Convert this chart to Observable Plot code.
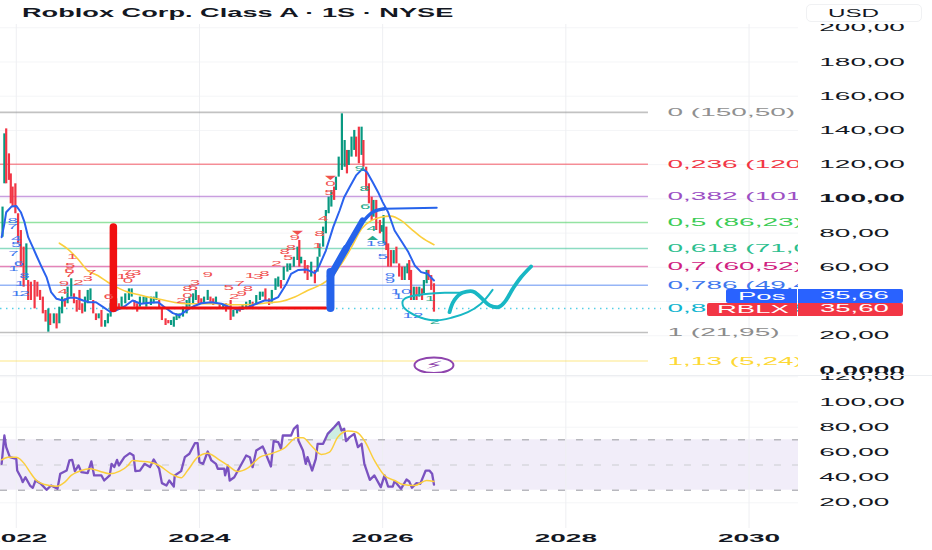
<!DOCTYPE html>
<html><head><meta charset="utf-8">
<script src="https://cdn.jsdelivr.net/npm/d3@7"></script>
<script src="https://cdn.jsdelivr.net/npm/@observablehq/plot@0.6"></script>
<style>
html,body{margin:0;padding:0;background:#fff;width:932px;height:550px;overflow:hidden;font-family:"Liberation Sans",sans-serif;color:#131722}
#chart{position:absolute;left:0;top:0;width:932px;height:550px;overflow:hidden}
#chart svg{position:absolute;left:0;background:transparent;display:block}
#chart svg *{vector-effect:non-scaling-stroke}
.wide{position:absolute;white-space:nowrap;transform-origin:0 50%;transform:scaleX(2.5);line-height:14px;height:14px}
.box{position:absolute}
</style></head><body>
<div id="chart"></div>
<script>
// Candles: date, range (high, low) and direction
const candleYear=[21.85,21.87,21.89,21.92,21.94,21.96,21.99,22.02,22.05,22.08,22.11,22.13,22.16,22.20,22.23,22.26,22.29,22.32,22.35,22.37,22.41,22.44,22.47,22.50,22.53,22.56,22.60,22.63,22.66,22.69,22.72,22.75,22.78,22.81,22.84,22.87,22.90,22.93,22.97,23.00,23.03,23.06,23.09,23.12,23.15,23.19,23.23,23.26,23.29,23.32,23.35,23.39,23.42,23.47,23.50,23.53,23.56,23.59,23.63,23.66,23.69,23.72,23.75,23.78,23.82,23.86,23.89,23.93,23.96,23.99,24.02,24.05,24.09,24.12,24.15,24.18,24.22,24.26,24.29,24.34,24.37,24.41,24.44,24.47,24.51,24.55,24.58,24.62,24.66,24.69,24.72,24.76,24.79,24.83,24.86,24.89,24.92,24.96,24.99,25.03,25.07,25.09,
25.11,25.15,25.18,25.22,25.26,25.29,25.31,25.35,25.38,25.41,25.44,25.47,25.49,25.52,25.555,25.585,25.61,25.63,25.66,25.69,25.71,25.74,25.77,25.79,25.82,25.85,25.88,25.90,25.93,25.97,25.99,26.01,26.04,26.06,26.09,26.12,26.15,26.18,26.21,26.24,26.27,26.29,26.31,26.34,26.37,26.40,26.43,26.45,26.48,26.50,26.53,26.56];
const candleHigh=[95.2,138,140.9,126.3,114.6,106.9,108.8,91.3,81.5,71.8,73.7,52.3,51.3,52.3,51.3,46.5,42.6,34.8,35.7,32.8,32.8,32.8,36.7,42.6,41.6,48.4,53.3,44.5,40.6,46.5,38.7,42.6,46.5,47.4,40.6,32.8,32.8,34.8,28.9,32.8,38.7,44.5,41.6,38.7,42.6,44.5,47.4,47.4,40.6,38.7,42.6,42.6,42.6,42.6,42.6,45.5,40.6,35.7,29.9,28.9,28.9,30.9,32.8,32.8,36.7,40.6,42.6,44.5,46.5,43.5,41.6,42.6,46.5,42.6,41.6,42.6,38.7,37.7,38.7,40.6,34.8,35.7,36.7,37.7,39.6,40.6,39.6,43.5,45.5,45.5,47.4,41.6,46.5,53.3,54.3,52.3,60.1,62,62,65.9,71.8,75.7,
65.9,64,61,63,58.2,65.9,73.7,83.5,93.2,101,104.9,106.9,112.7,124.4,149.7,134.1,128.3,128.3,136.1,140,136.1,141.9,141.9,134.1,118.5,108.8,101,99.1,99.1,87.4,84.4,90.3,83.5,73.7,69.8,69.8,71.8,62,60.1,60.1,62,64,58.2,48.4,48.4,48.4,47.4,52.3,58.2,58.2,55.2,50.4];
const candleLow=[77.6,108.8,108.8,110.8,97.1,95.2,91.3,73.7,60.1,48.4,52.3,40.6,40.6,35.7,42.6,40.6,32.8,28,22.1,26,27,24,27,32.8,36.7,38.7,42.6,38.7,33.8,34.8,32.8,33.8,38.7,40.6,32.8,28.9,29.9,25,25,27,30.9,34.8,34.8,34.8,36.7,38.7,40.6,42.6,36.7,33.8,36.7,38.7,36.7,37.7,38.7,40.6,35.7,28.9,26,27,26,25,28.9,29.9,30.9,32.8,36.7,38.7,40.6,38.7,38.7,38.7,40.6,39.6,37.7,38.7,35.7,35.7,33.8,28.9,30.9,32.8,33.8,34.8,35.7,36.7,35.7,37.7,40.6,42.6,40.6,37.7,38.7,46.5,48.4,47.4,52.3,57.2,58.1,60.1,64,60.1,
62,56.2,52.3,54.3,50.4,57.2,65.9,71.8,79.6,91.3,95.2,99.1,104.9,112.7,116.6,118.5,114.6,119.5,124.4,128.3,124.4,120.5,125.4,118.5,104.9,97.1,87.4,89.3,81.5,79.6,80.5,73.7,69.8,60.1,60.1,62,62,54.3,52.3,52.3,56.2,52.3,40.6,40.6,40.6,42.6,40.6,44.5,50.4,52.3,46.5,33.8];
const candleUp=[1,1,0,0,0,0,0,0,0,0,1,0,0,0,0,0,0,0,1,0,1,0,1,1,0,1,1,0,0,0,0,1,1,1,0,0,1,0,1,1,1,0,1,0,1,1,1,1,0,0,1,1,1,1,1,1,0,0,0,0,1,1,1,1,1,1,1,1,1,0,0,1,1,0,0,1,0,1,0,0,1,1,0,1,1,1,0,1,1,1,0,0,1,1,1,0,1,1,1,1,1,0,
1,0,0,1,0,1,1,1,1,1,1,0,1,1,1,1,0,1,1,1,0,0,1,0,0,0,0,1,0,0,1,1,0,0,0,1,0,0,0,1,1,0,0,1,0,1,0,1,1,0,0,0];

const maBlueYear=[21.84,21.87,21.89,21.95,22,22.05,22.09,22.13,22.18,22.22,22.27,22.33,22.38,22.44,22.51,22.58,22.65,22.73,22.8,22.87,22.95,23.02,23.09,23.18,23.27,23.36,23.46,23.55,23.62,23.71,23.78,23.86,23.93,24.02,24.13,24.24,24.33,24.42,24.51,24.6,24.71,24.78,24.86,24.95,25,25.08,25.17,25.26,25.31,25.38,25.46,25.53,25.58,25.64,25.71,25.78,25.83,25.89,25.95,26,26.06,26.13,26.2,26.28,26.35,26.42,26.49,26.56];
const maBlueValue=[77.6,85.4,92.2,95.6,95.9,92.2,86.4,77.6,71.8,66.9,61,54.3,45.5,41.6,40.6,42.2,42.2,40.6,39.6,39.6,36.7,34.2,34.8,37.1,40.6,38.7,39.3,39.6,36.7,33.2,31.9,34.8,37.1,39,39.6,38.7,36.7,35.2,36.3,38.3,40.6,40.6,42.6,50.4,56.2,58.5,58.7,56.6,61.1,69.8,83.5,93.2,101,106.9,113.7,117.6,115.6,109.8,103.9,98.1,92.2,81.5,75.7,68.9,61.1,57.2,56.2,52.3];
const maYellowYear=[22.47,22.56,22.67,22.78,22.89,23,23.11,23.22,23.33,23.44,23.58,23.73,23.87,24.02,24.2,24.38,24.57,24.75,24.89,25.04,25.18,25.33,25.44,25.55,25.66,25.77,25.88,25.98,26.09,26.2,26.31,26.42,26.56];
const maYellowValue=[74.1,70.8,65,58.1,55.2,51.3,48,45.5,44.1,42.6,41.2,39.4,38.7,38.7,38.7,38.1,38.3,39.3,40,42.6,46.5,50,54.3,62,71.8,82.5,87.4,89.3,89.9,87.4,82.5,77.6,73.2];

const fibLevel=["0 (150,50)","0,236 (120,16)","0,382 (101,40)","0,5 (86,23)","0,618 (71,05)","0,7 (60,52)","0,786 (49,46)","0,887 (35,90)","1 (21,95)","1,13 (5,24)"];
const fibValue=[150.5,120.16,101.4,86.23,71.05,60.52,49.46,35.9,21.95,5.24];
const fibColor=["#909090","#f23645","#9c4fc4","#3ccc55","#2ebf8f","#d0207f","#3f78ee","#12b5d0","#8c8c8c","#fdd835"];

const drawnBlueA=[[25.43,36.3],[25.43,57.2]];
const drawnBlueB=[[25.43,55],[25.6,71]];
const drawnBlueB2=[[25.58,69],[25.78,87.4]];
const drawnBlueC=[[25.76,85],[25.89,92.2],[26.02,94.2]];
const drawnBlueD=[[26.02,94.2],[26.59,94.8]];
const drawnRedBar=[[23.06,83.5],[23.06,36]];
const drawnRedFloor=[[23.06,36.3],[25.38,36.3]];
const tealLoop=[[27.2,46.8],[27.07,38.6],[26.93,33.8],[26.75,30.5],[26.57,28.9],[26.42,30.5],[26.29,33.8],[26.22,37.7],[26.24,41.6],[26.35,43.5],[26.57,44.9],[26.71,45.1],[26.87,45.1]];
const tealBrush=[[26.73,33.8],[26.78,40.6],[26.87,45.1],[26.98,46],[27.07,42.5],[27.17,37.7],[27.26,36.7],[27.33,39.6],[27.42,47.4],[27.51,54.2],[27.62,60.5]];

const tdRed=[[22.61,66.3,"1"],[22.59,61.1,"5"],[22.58,58.2,"6"],[22.58,55.8,"7"],[22.82,57.2,"7"],[22.68,51.3,"2"],[22.52,50.4,"9"],[22.78,53.3,"3"],[22.51,46.1,"4"],[23.21,57.2,"7"],[23.31,57.2,"3"],[23.25,55.2,"8"],[23.15,54.6,"1"],[23.22,52.3,"0"],[23.01,42.6,"6"],[23.95,51.3,"3"],[24.09,55.8,"9"],[23.93,48.4,"5"],[23.87,47.4,"8"],[23.87,43.5,"0"],[23.8,40.6,"2"],[24.32,48.4,"5"],[24.55,55.2,"1"],[24.64,54.3,"3"],[24.71,56.2,"8"],[24.44,50.4,"7"],[24.53,47.4,"8"],[24.46,44.5,"9"],[24.38,42.6,"2"],[24.84,62.4,"2"],[24.93,68.9,"8"],[25,71.8,"8"],[25.04,77.2,"9"],[24.97,65.9,"5"],[25.43,109.2,"0"],[25.42,103.9,"5"],[25.35,88.3,"4"],[25.31,79.6,"8"],[25.29,72.8,"1"],[25.07,80.5,"▼"],[25.43,112.7,"▼"]];
const tdTeal=[[25.75,117.6,"9"],[25.8,105.9,"8"],[25.81,95.2,"6"],[25.88,82.5,"4"],[26.57,28,"2"],[26.52,41.6,"1"],[25.89,77.6,"▲"]];
const tdBlue=[[25.93,74.1,"19"],[26,66.3,"5"],[26.08,55.2,"9"],[26.08,52.3,"9"],[26.2,46.1,"10"],[26.17,42.6,"1"],[26.33,31.9,"12"],[21.96,87.4,"8"],[21.96,83.9,"7"],[22,76.7,"4"],[22,73.3,"5"],[21.97,68.3,"7"],[22.03,62.4,"6"],[21.97,59.1,"1"],[22.09,55.2,"8"],[22.04,50.4,"1"],[22,44.5,"1"],[22.09,44.5,"2"]];

const rsiYear=[21.84,21.87,21.89,21.93,22,22.01,22.05,22.07,22.1,22.15,22.18,22.21,22.27,22.33,22.38,22.45,22.48,22.55,22.58,22.61,22.64,22.68,22.71,22.78,22.82,22.85,22.93,22.96,23.02,23.04,23.07,23.1,23.12,23.18,23.24,23.28,23.3,23.35,23.4,23.46,23.5,23.56,23.59,23.64,23.67,23.72,23.73,23.8,23.84,23.89,23.95,23.98,24,24.04,24.09,24.13,24.18,24.2,24.27,24.28,24.31,24.33,24.38,24.45,24.51,24.55,24.58,24.62,24.69,24.71,24.78,24.81,24.86,24.89,24.91,25,25.03,25.07,25.08,25.13,25.16,25.18,25.23,25.27,25.29,25.35,25.4,25.47,25.52,25.55,25.58,25.6,25.64,25.69,25.73,25.77,25.8,25.86,25.91,25.98,26.02,26.06,26.11,26.13,26.2,26.26,26.29,26.32,26.37,26.41,26.47,26.51,26.54,26.56];
const rsiValue=[50.9,73.4,64.2,56.2,54.9,45.6,40.3,36.4,40.3,33.7,31.9,37.7,35,30.3,33.7,31.1,43,45.6,53.6,54.1,45.1,49.6,44.3,43.5,52.8,41.7,41.7,37.7,41.7,50.9,48.3,54.1,49.6,56.2,59.4,57.5,45.1,45.6,50.9,48.3,54.4,47,35.6,33.7,37.7,32.9,41.7,45.1,56.2,58.9,67.3,67.3,52.2,50.9,60.7,53.6,50.9,47,47,41.7,49.6,37.7,40.3,49.6,57.5,56.2,48.3,61.5,64.7,61.5,48.8,68.9,68.1,62.8,73.4,73.4,78.7,81.4,69.4,61.5,50.9,56.2,45.6,54.9,66.8,66.8,74.7,80,84,77.4,78.7,68.9,72.1,74.7,64.2,66.8,50.9,38.2,41.7,32.4,41.7,32.9,32.9,37.2,31.1,38.5,36.9,31.9,35.6,35,45.6,45.6,43,34.5];
const rsiMaYear=[21.84,21.91,22,22.09,22.15,22.22,22.31,22.44,22.53,22.6,22.71,22.8,22.91,23.02,23.13,23.22,23.27,23.36,23.46,23.56,23.69,23.8,23.87,23.98,24.09,24.2,24.31,24.42,24.53,24.66,24.78,24.93,25.06,25.13,25.22,25.33,25.42,25.51,25.62,25.71,25.8,25.91,26.02,26.13,26.22,26.35,26.48,26.56];
const rsiMaValue=[54.1,56.2,56.2,50.9,44.3,37.7,34.5,33.2,36.4,41.7,45.6,47,45.1,43,45.1,49.6,53.6,53,52.2,49.6,43,39.8,45.6,56.2,59.4,54.9,49.6,44.8,47.7,56.2,58.9,63.6,71.6,71.6,65.5,58.3,60.2,72.1,76.9,76.1,69.4,53.6,41.7,37.7,34.5,33.7,37.7,36.9];
const rsiHumpYear=[25.4,25.47,25.52,25.58];
const rsiHumpValue=[74.7,80,84,78.7];
const rsiBands=[70,50,30];

const yearTicks=[2022,2024,2026,2028,2030];
const priceTicks=[20,60,80,120,140,160,180,200];
const priceBold=[0,100];
const priceGrid=[20,40,60,80,100,120,140,160,180,200];
const rsiTicks=[20,40,60,80,100,120];

const STRETCH=2.5;
const logicalW=932/STRETCH, marginR=134/STRETCH;
const xDomain=[21.836,30.548];
const yr=v=>v+2000;
const candles=candleYear.map((x,i)=>({x:yr(x),h:candleHigh[i],l:candleLow[i],up:candleUp[i]}));
const pts=a=>a.map(([x,y,t])=>({x:yr(x),y,t}));
const line=(a,o)=>Plot.line(pts(a),{x:"x",y:"y",...o});
const fibs=fibValue.map((v,i)=>({v,label:fibLevel[i],color:fibColor[i]}));
const fmt=d=>d===0?"0,0000":d.toFixed(2).replace(".",",");
const td=(a,fill)=>Plot.text(pts(a),{x:"x",y:"y",text:"t",fill,fontSize:7.5,fontFamily:"Liberation Sans"});
const axisFont={fontSize:11.2,fontFamily:"Liberation Sans",fill:"#131722"};

const pricePlot=Plot.plot({
  width:logicalW,height:349,marginLeft:0,marginRight:marginR,marginTop:0,marginBottom:0,
  x:{domain:xDomain.map(yr),axis:null},
  y:{domain:[-2.05,201.9],axis:null},
  style:{background:"transparent"},
  marks:[
    Plot.ruleY(priceGrid,{stroke:"#f4f5f7",strokeWidth:1}),
    Plot.ruleX(yearTicks,{stroke:"#eeeff2",strokeWidth:1}),
    ...fibs.filter(d=>d.v!==35.9).map(d=>Plot.ruleY([d.v],{x1:xDomain[0]+2000,x2:2028.91,stroke:d.color,strokeOpacity:d.v===5.24?0.4:0.55,strokeWidth:d.v===150.5?1.8:1.5})),
    Plot.ruleY([35.9],{x1:xDomain[0]+2000,x2:2029.05,stroke:"#55cfe6",strokeWidth:1.6,strokeDasharray:"1.5,4.5"}),
    Plot.ruleX(candles,{x:"x",y1:"l",y2:"h",stroke:d=>d.up?"#089981":"#f23645",strokeWidth:2.2}),
    Plot.line(maYellowYear.map((x,i)=>({x:yr(x),y:maYellowValue[i]})),{x:"x",y:"y",stroke:"#fbce3c",strokeWidth:1.6,curve:"monotone-x"}),
    Plot.line(maBlueYear.map((x,i)=>({x:yr(x),y:maBlueValue[i]})),{x:"x",y:"y",stroke:"#2a62ee",strokeWidth:2}),
    line(drawnRedFloor,{stroke:"#f01010",strokeWidth:3}),
    line(drawnRedBar,{stroke:"#f01010",strokeWidth:7.5}),
    line(drawnBlueA,{stroke:"#2563eb",strokeWidth:8}),
    line(drawnBlueB,{stroke:"#2563eb",strokeWidth:7}),
    line(drawnBlueB2,{stroke:"#2563eb",strokeWidth:6}),
    line(drawnBlueC,{stroke:"#2563eb",strokeWidth:3.4,curve:"monotone-x"}),
    line(drawnBlueD,{stroke:"#2563eb",strokeWidth:2}),
    td(tdRed,"#f0504f"),td(tdTeal,"#28a98b"),td(tdBlue,"#3f78ee"),
    line(tealLoop,{stroke:"#18b7c4",strokeWidth:2,curve:"catmull-rom"}),
    line(tealBrush,{stroke:"#18b7c4",strokeWidth:3.8,curve:"catmull-rom"}),
    Plot.dot([{x:2026.56,y:2.8}],{x:"x",y:"y",r:7.8,stroke:"#8e44ad",strokeWidth:2,fill:"#fff"}),
    Plot.text([{x:2026.56,y:2.8,t:"⚡"}],{x:"x",y:"y",text:"t",fill:"#8e44ad",fontSize:11,fontFamily:"DejaVu Sans"}),
    Plot.text(fibs,{x:()=>2029.11,y:"v",text:"label",fill:"color",textAnchor:"start",fontSize:11.2,fontFamily:"Liberation Sans",clip:true}),
    Plot.axisY({anchor:"right",ticks:priceTicks,tickSize:0,tickPadding:8,tickFormat:fmt,label:null,...axisFont}),
    Plot.axisY({anchor:"right",ticks:priceBold,tickSize:0,tickPadding:8,tickFormat:fmt,label:null,fontWeight:"bold",...axisFont})
  ]
});

const rsiPlot=Plot.plot({
  width:logicalW,height:177,marginLeft:0,marginRight:marginR,marginTop:0,marginBottom:22,
  x:{domain:xDomain.map(yr),axis:null},
  y:{domain:[-0.4,122.6],axis:null},
  style:{background:"transparent"},
  marks:[
    Plot.ruleY(rsiTicks,{stroke:"#f4f5f7",strokeWidth:1}),
    Plot.rect([{y1:rsiBands[2],y2:rsiBands[0]}],{x1:()=>xDomain[0]+2000,x2:()=>xDomain[1]+2000,y1:"y1",y2:"y2",fill:"#f1edf9"}),
    Plot.ruleX(yearTicks,{stroke:"#eeeff2",strokeWidth:1}),
    Plot.ruleY(rsiBands,{stroke:d=>d===50?"#d8d8de":"#b8b8be",strokeWidth:1.4,strokeDasharray:"7,11"}),
    Plot.areaY(rsiHumpYear.map((x,i)=>({x:yr(x),y:rsiHumpValue[i]})),{x:"x",y1:()=>70,y2:"y",fill:"#cdeee2"}),
    Plot.line(rsiYear.map((x,i)=>({x:yr(x),y:rsiValue[i]})),{x:"x",y:"y",stroke:"#7a52c0",strokeWidth:2.3}),
    Plot.line(rsiMaYear.map((x,i)=>({x:yr(x),y:rsiMaValue[i]})),{x:"x",y:"y",stroke:"#fbce3c",strokeWidth:1.5,curve:"monotone-x"}),
    Plot.axisY({anchor:"right",ticks:rsiTicks,tickSize:0,tickPadding:8,tickFormat:fmt,label:null,...axisFont}),
    Plot.axisX({anchor:"bottom",ticks:yearTicks,tickSize:0,tickPadding:6,tickFormat:d=>String(d),label:null,fontWeight:"bold",...axisFont})
  ]
});

const host=document.getElementById("chart");
function mount(svg,t,h){
  svg.setAttribute("width",932);svg.setAttribute("height",h);
  svg.setAttribute("preserveAspectRatio","none");
  svg.style.width="932px";svg.style.maxWidth="none";svg.style.height=h+"px";svg.style.top=t+"px";svg.style.overflow="hidden";
  host.appendChild(svg);
}
mount(pricePlot,24,349);mount(rsiPlot,373,177);

function box(x,y,w,h,css){const d=document.createElement("div");d.className="box";d.style.cssText=`left:${x}px;top:${y}px;width:${w}px;height:${h}px;${css}`;host.appendChild(d);return d}
function wide(txt,x,cy,size,css,sx=STRETCH){const d=document.createElement("div");d.className="wide";d.textContent=txt;d.style.cssText=`left:${x}px;top:${cy-7}px;font-size:${size}px;transform:scaleX(${sx});${css||""}`;host.appendChild(d);return d}
box(0,375,932,1,"background:#eceef1");
wide("Roblox Corp. Class A · 1S · NYSE",22,12.5,13,"font-weight:bold",2.09);
box(806,4,116,18,"border:1px solid #f0f1f3;border-radius:5px;box-sizing:border-box");
wide("USD",828,13,11,"",2.2);
box(726,289,71,13.5,"background:#2962ff;border-radius:2px 0 0 2px");
box(798,289,105,13.5,"background:#2962ff;border-radius:0 2px 2px 0");
box(707,303,90,12.5,"background:#f23645;border-radius:2px 0 0 2px");
box(798,303,105,12.5,"background:#f23645;border-radius:0 2px 2px 0");
wide("Pos",738,296,11,"color:#fff");
wide("35,66",820,295,11,"color:#fff");
wide("RBLX",717,309,11,"color:#fff");
wide("35,60",820,308,11,"color:#fff");
</script>
</body></html>
